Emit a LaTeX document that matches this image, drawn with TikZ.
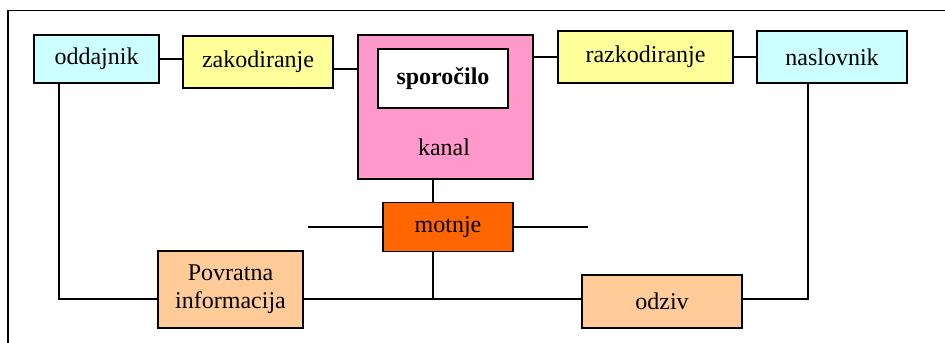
\documentclass[tikz,border=0pt]{standalone}
\usepackage{fontspec}
\setmainfont{Liberation Serif}
\usetikzlibrary{positioning}

\definecolor{modra}{HTML}{CCFFFF}
\definecolor{rumena}{HTML}{FFFF99}
\definecolor{roza}{HTML}{FF99CC}
\definecolor{oranzna}{HTML}{FF6600}
\definecolor{breskev}{HTML}{FFCC99}

\begin{document}
\begin{tikzpicture}[x = 0.5pt, y = -0.5pt, line width = 0.7pt,
  font = \fontsize{12}{14}\selectfont,
  okvir/.style = {draw, inner sep = 0, align = center}]
  \useasboundingbox (0, 0) rectangle (945, 342);

  \draw (8, 350) -- (8, 10.5) -- (950, 10.5);

  \node[okvir, fill = modra, minimum width = 62.5pt, minimum height = 24pt]
  (oddajnik) at (96.5, 59) {oddajnik};
  \node[okvir, fill = rumena, minimum width = 75pt, minimum height = 26pt]
  (zakodiranje) at (258, 62) {zakodiranje};
  \node[okvir, fill = roza, minimum width = 87.5pt, minimum height = 72pt]
  (kanal) at (445.5, 107) {};
  \node[okvir, fill = white, minimum width = 65pt, minimum height = 29.5pt,
  font = \fontsize{12}{14}\selectfont\bfseries] (sporocilo) at (443, 78.5)
  {sporočilo};
  \node (kanalnapis) at (444, 147) {kanal};
  \node[okvir, fill = rumena, minimum width = 87.5pt, minimum height = 26pt]
  (razkodiranje) at (645.5, 57) {razkodiranje};
  \node[okvir, fill = modra, minimum width = 75pt, minimum height = 26pt]
  (naslovnik) at (832, 57) {naslovnik};
  \node[okvir, fill = oranzna, minimum width = 65pt, minimum height = 24.5pt]
  (motnje) at (448, 227) {motnje};
  \node[okvir, fill = breskev, minimum width = 72.5pt, minimum height = 38.5pt]
  (povratna) at (230.5, 289.5) {Povratna\\informacija};
  \node[okvir, fill = breskev, minimum width = 80pt, minimum height = 26.5pt]
  (odziv) at (662, 301.5) {odziv};

  \coordinate (levo) at (59, 299);
  \coordinate (odcep) at (433, 299);
  \coordinate (desno) at (808, 299);
  \coordinate (motnjel) at (308, 227);
  \coordinate (motnjed) at (588, 227);

  % zgornja vrsta
  \draw (oddajnik.east) -- (oddajnik.east -| zakodiranje.west);
  \draw ([yshift = -3.5pt]zakodiranje.east) -- ([yshift = -3.5pt]zakodiranje.east -| kanal.west);
  \draw (razkodiranje.west -| kanal.east) -- (razkodiranje.west);
  \draw (razkodiranje.east) -- (naslovnik.west);

  % motnje
  \draw (kanal.south -| odcep) -- (motnje.north -| odcep);
  \draw (motnje.south -| odcep) -- (odcep);
  \draw (motnjel) -- (motnje.west);
  \draw (motnje.east) -- (motnjed);

  % povratna zanka
  \draw (oddajnik.south -| levo) -- (levo) -- (povratna.west |- levo);
  \draw (povratna.east |- odcep) -- (odziv.west |- odcep);
  \draw (odziv.east |- desno) -- (desno) -- (naslovnik.south -| desno);
\end{tikzpicture}
\end{document}
